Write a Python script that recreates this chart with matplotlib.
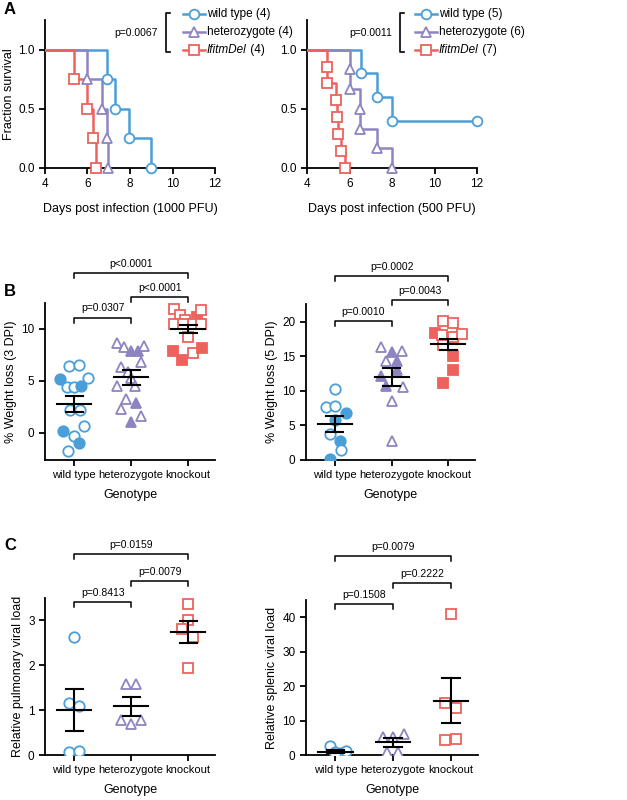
import matplotlib
matplotlib.use("Agg")
import matplotlib.pyplot as plt
from matplotlib.lines import Line2D

plt.rcParams['font.family'] = ['Liberation Sans', 'DejaVu Sans']

BLUE = '#4a9fd8'
PURPLE = '#8f84c2'
RED = '#ee625d'
COLORS = [BLUE, PURPLE, RED]
MARKERS = ['o', '^', 's']
genotypes = ['wild type', 'heterozygote', 'knockout']

# ---------------- Panel A data (survival) ----------------
A1_times = {
    'wt': [4, 6.92, 7.3, 7.94, 8.99],
    'het': [4, 5.98, 6.68, 6.9, 6.95],
    'ko': [4, 5.38, 5.98, 6.24, 6.4],
}
A1_surv = {
    'wt': [1.0, 0.75, 0.5, 0.25, 0.0],
    'het': [1.0, 0.75, 0.5, 0.25, 0.0],
    'ko': [1.0, 0.75, 0.5, 0.25, 0.0],
}
A2_times = {
    'wt': [4, 6.53, 7.3, 8.0],
    'het': [4, 6.0, 6.0, 6.48, 6.5, 7.3, 8.0],
    'ko': [4, 4.92, 4.95, 5.37, 5.4, 5.47, 5.6, 5.8],
}
A2_surv = {
    'wt': [1.0, 0.8, 0.6, 0.4],
    'het': [1.0, 0.833, 0.667, 0.5, 0.333, 0.167, 0.0],
    'ko': [1.0, 0.857, 0.714, 0.571, 0.429, 0.286, 0.143, 0.0],
}
A2_censor_wt = (12, 0.4)
A1_legend = ['wild type (4)', 'heterozygote (4)', 'IfitmDel (4)']
A2_legend = ['wild type (5)', 'heterozygote (6)', 'IfitmDel (7)']
A1_p = 'p=0.0067'
A2_p = 'p=0.0011'

# ---------------- Panel B data (weight loss) ----------------
B1_vals = [
    [6.45, 6.55, 5.3, 5.2, 4.4, 4.4, 4.5, 2.25, 2.25, 0.7, 0.15, -0.3, -1.0, -1.75],
    [8.7, 8.3, 7.9, 7.9, 8.4, 6.8, 6.3, 5.9, 5.3, 4.5, 4.5, 3.3, 2.9, 2.3, 1.6, 1.1],
    [11.9, 11.3, 10.9, 11.2, 11.8, 10.5, 10.5, 10.5, 10.5, 9.2, 7.9, 7.7, 8.2, 7.0],
]
B1_filled = [
    [0, 0, 0, 1, 0, 0, 1, 0, 0, 0, 1, 0, 1, 0],
    [0, 0, 1, 1, 0, 0, 0, 0, 0, 0, 0, 0, 1, 0, 0, 1],
    [0, 0, 0, 1, 0, 0, 0, 0, 0, 0, 1, 0, 1, 1],
]
B1_jit = [
    [-0.09, 0.09, 0.24, -0.24, -0.13, 0.0, 0.12, -0.07, 0.1, 0.18, -0.19, 0.0, 0.09, -0.1],
    [-0.24, -0.12, 0.0, 0.12, 0.23, 0.17, -0.18, -0.06, 0.0, 0.06, -0.24, -0.09, 0.09, -0.18, 0.17, 0.0],
    [-0.25, -0.15, -0.05, 0.15, 0.23, -0.25, -0.09, 0.08, 0.23, 0.0, -0.26, 0.08, 0.24, -0.1],
]
B1_mean = [2.75, 5.35, 10.0]
B1_sem = [0.78, 0.7, 0.38]

B2_vals = [
    [10.3, 7.7, 7.8, 6.8, 5.8, 3.7, 2.7, 1.4, 0.2],
    [16.4, 15.6, 15.8, 14.3, 14.3, 12.1, 13.0, 10.7, 10.6, 8.5, 2.8],
    [20.2, 19.9, 18.4, 18.1, 17.8, 18.2, 16.6, 15.0, 13.0, 11.2],
]
B2_filled = [
    [0, 0, 0, 1, 1, 0, 1, 0, 1],
    [0, 1, 0, 0, 1, 1, 1, 1, 0, 0, 0],
    [0, 0, 1, 0, 0, 0, 0, 1, 1, 1],
]
B2_jit = [
    [0.0, -0.16, 0.0, 0.19, 0.0, -0.09, 0.09, 0.1, -0.09],
    [-0.18, 0.0, 0.18, -0.1, 0.09, -0.18, 0.09, -0.1, 0.2, 0.0, 0.0],
    [-0.1, 0.09, -0.24, -0.12, 0.09, 0.24, -0.09, 0.09, 0.09, -0.09],
]
B2_mean = [5.2, 12.0, 16.8]
B2_sem = [1.15, 1.3, 0.8]

# ---------------- Panel C data (viral load) ----------------
C1_vals = [
    [2.62, 1.15, 1.1, 0.07, 0.1],
    [1.59, 1.59, 0.77, 0.69, 0.77],
    [3.37, 3.0, 2.8, 2.64, 1.94],
]
C1_jit = [
    [0.0, -0.09, 0.09, -0.09, 0.09],
    [-0.09, 0.09, -0.18, 0.0, 0.18],
    [0.0, 0.0, -0.1, 0.09, 0.0],
]
C1_mean = [1.0, 1.09, 2.74]
C1_sem = [0.47, 0.21, 0.24]

C2_vals = [
    [2.6, 1.0, 0.5, 1.2, 0.3],
    [5.3, 5.1, 6.2, 1.0, 1.0],
    [41.0, 15.2, 13.6, 4.3, 4.6],
]
C2_jit = [
    [-0.09, 0.0, 0.09, 0.18, 0.0],
    [-0.18, 0.0, 0.18, -0.1, 0.08],
    [0.0, -0.1, 0.09, -0.1, 0.09],
]
C2_mean = [1.0, 3.7, 15.8]
C2_sem = [0.4, 1.3, 6.6]

pvals_B1 = ['p=0.0307', 'p<0.0001', 'p<0.0001']
pvals_B2 = ['p=0.0010', 'p=0.0043', 'p=0.0002']
pvals_C1 = ['p=0.8413', 'p=0.0079', 'p=0.0159']
pvals_C2 = ['p=0.1508', 'p=0.2222', 'p=0.0079']

W, H = 627, 800
fig = plt.figure(figsize=(W / 100, H / 100), dpi=100)

TICK = 8.5
LAB = 9


def pax(x0, y0, x1, y1):
    return fig.add_axes([x0 / W, 1 - y1 / H, (x1 - x0) / W, (y1 - y0) / H])


def style(ax):
    for s in ['top', 'right']:
        ax.spines[s].set_visible(False)
    for s in ['left', 'bottom']:
        ax.spines[s].set_linewidth(1.3)
    ax.tick_params(width=1.3, length=4, labelsize=TICK)


def survival(ax, times, surv, censor=None):
    for k, c, m in zip(['wt', 'het', 'ko'], COLORS, MARKERS):
        t, s = times[k], surv[k]
        xs, ys = [t[0]], [s[0]]
        for i in range(1, len(t)):
            xs += [t[i], t[i]]
            ys += [s[i - 1], s[i]]
        if censor is not None and k == 'wt':
            xs.append(censor[0]); ys.append(censor[1])
        ax.plot(xs, ys, color=c, lw=1.8, zorder=3)
        mx, my = t[1:], s[1:]
        if censor is not None and k == 'wt':
            mx = mx + [censor[0]]; my = my + [censor[1]]
        ax.plot(mx, my, ls='none', marker=m, ms=7, mfc='white', mec=c, mew=1.3, zorder=4, clip_on=False)
    ax.set_xlim(4, 12)
    ax.set_ylim(0, 1.25)
    ax.set_xticks([4, 6, 8, 10, 12])
    ax.set_yticks([0, 0.5, 1.0])
    ax.set_yticklabels(['0.0', '0.5', '1.0'])
    style(ax)


def legend(xline, xtext, xbr, ptext, labels):
    rows = [14, 32, 50]
    for r, lab, c, m in zip(rows, labels, COLORS, MARKERS):
        fig.add_artist(Line2D([xline / W, (xline + 22) / W], [1 - r / H] * 2, color=c, lw=1.8))
        fig.add_artist(Line2D([(xline + 11) / W], [1 - r / H], ls='none', marker=m, ms=7,
                              mfc='white', mec=c, mew=1.3))
        if lab.startswith('IfitmDel'):
            t = fig.text(xtext / W, 1 - r / H, 'IfitmDel', style='italic', fontsize=8.5, va='center')
            fig.canvas.draw()
            bb = t.get_window_extent()
            fig.text(bb.x1 / W, 1 - r / H, ' ' + lab[9:], fontsize=8.5, va='center')
        else:
            fig.text(xtext / W, 1 - r / H, lab, fontsize=8.5, va='center')
    fig.add_artist(Line2D([(xbr + 4) / W, xbr / W, xbr / W, (xbr + 4) / W],
                          [1 - 13 / H, 1 - 13 / H, 1 - 52 / H, 1 - 52 / H], color='k', lw=1.2))
    fig.text((xbr - 8) / W, 1 - 33 / H, ptext, fontsize=7.5, ha='right', va='center')


def dots(ax, vals, jit, filled=None):
    for g in range(3):
        for i, v in enumerate(vals[g]):
            f = filled[g][i] if filled is not None else 0
            ax.plot(g + jit[g][i], v, ls='none', marker=MARKERS[g], ms=7.5,
                    mfc=COLORS[g] if f else 'white', mec=COLORS[g], mew=1.3, zorder=3)


def meanbars(ax, mean, sem):
    for g in range(3):
        ax.plot([g - 0.3, g + 0.3], [mean[g]] * 2, color='k', lw=1.5, zorder=4)
        ax.plot([g - 0.15, g + 0.15], [mean[g] + sem[g]] * 2, color='k', lw=1.5, zorder=4)
        ax.plot([g - 0.15, g + 0.15], [mean[g] - sem[g]] * 2, color='k', lw=1.5, zorder=4)
        ax.plot([g, g], [mean[g] - sem[g], mean[g] + sem[g]], color='k', lw=1.5, zorder=4)


def bracket(ax, x1, x2, y, tip, txt):
    ax.plot([x1, x1, x2, x2], [y - tip, y, y, y - tip], color='k', lw=1.1, clip_on=False)
    ax.annotate(txt, ((x1 + x2) / 2, y), xytext=(0, 3), textcoords='offset points',
                ha='center', va='bottom', fontsize=7.5, annotation_clip=False)


def scatter_panel(ax, vals, jit, mean, sem, ylim, yticks, ylabel, brs, tip, pv, filled=None):
    dots(ax, vals, jit, filled)
    meanbars(ax, mean, sem)
    ax.set_xlim(-0.51, 2.47)
    ax.set_ylim(*ylim)
    ax.set_yticks(yticks)
    ax.set_xticks([0, 1, 2])
    ax.set_xticklabels(genotypes)
    ax.set_xlabel('Genotype', fontsize=LAB, labelpad=6)
    ax.set_ylabel(ylabel, fontsize=LAB, labelpad=3)
    style(ax)
    ax.tick_params(axis='x', labelsize=8)
    for (x1, x2, y), p in zip(brs, pv):
        bracket(ax, x1, x2, y, tip, p)


# Panel A
axA1 = pax(45, 20, 215, 168)
survival(axA1, A1_times, A1_surv)
axA1.set_xlabel('Days post infection (1000 PFU)', fontsize=LAB, labelpad=9)
axA1.set_ylabel('Fraction survival', fontsize=LAB, labelpad=2)
axA2 = pax(307, 20, 477, 168)
survival(axA2, A2_times, A2_surv, A2_censor_wt)
axA2.set_xlabel('Days post infection (500 PFU)', fontsize=LAB, labelpad=9)
legend(183, 207, 166, A1_p, A1_legend)
legend(415, 439, 400, A2_p, A2_legend)

# Panel B
axB1 = pax(45, 303, 215, 460)
scatter_panel(axB1, B1_vals, B1_jit, B1_mean, B1_sem, (-2.6, 12.5), [0, 5, 10],
              '% Weight loss (3 DPI)', [(0, 1, 11.1), (1, 2, 13.1), (0, 2, 15.4)], 0.5, pvals_B1, B1_filled)
axB2 = pax(306, 304, 475, 460)
scatter_panel(axB2, B2_vals, B2_jit, B2_mean, B2_sem, (0, 22.6), [0, 5, 10, 15, 20],
              '% Weight loss (5 DPI)', [(0, 1, 20.1), (1, 2, 23.2), (0, 2, 26.7)], 0.7, pvals_B2, B2_filled)

# Panel C
axC1 = pax(45, 598, 215, 755)
scatter_panel(axC1, C1_vals, C1_jit, C1_mean, C1_sem, (0, 3.5), [0, 1, 2, 3],
              'Relative pulmonary viral load', [(0, 1, 3.4), (1, 2, 3.87), (0, 2, 4.47)], 0.11, pvals_C1)
axC2 = pax(306, 600, 478, 755)
scatter_panel(axC2, C2_vals, C2_jit, C2_mean, C2_sem, (0, 45), [0, 10, 20, 30, 40],
              'Relative splenic viral load', [(0, 1, 43.8), (1, 2, 49.9), (0, 2, 57.7)], 1.45, pvals_C2)

for lab, y in [('A', 10), ('B', 292), ('C', 545)]:
    fig.text(4 / W, 1 - y / H, lab, fontsize=12, fontweight='bold', va='center')

fig.savefig('out.png', dpi=100)
